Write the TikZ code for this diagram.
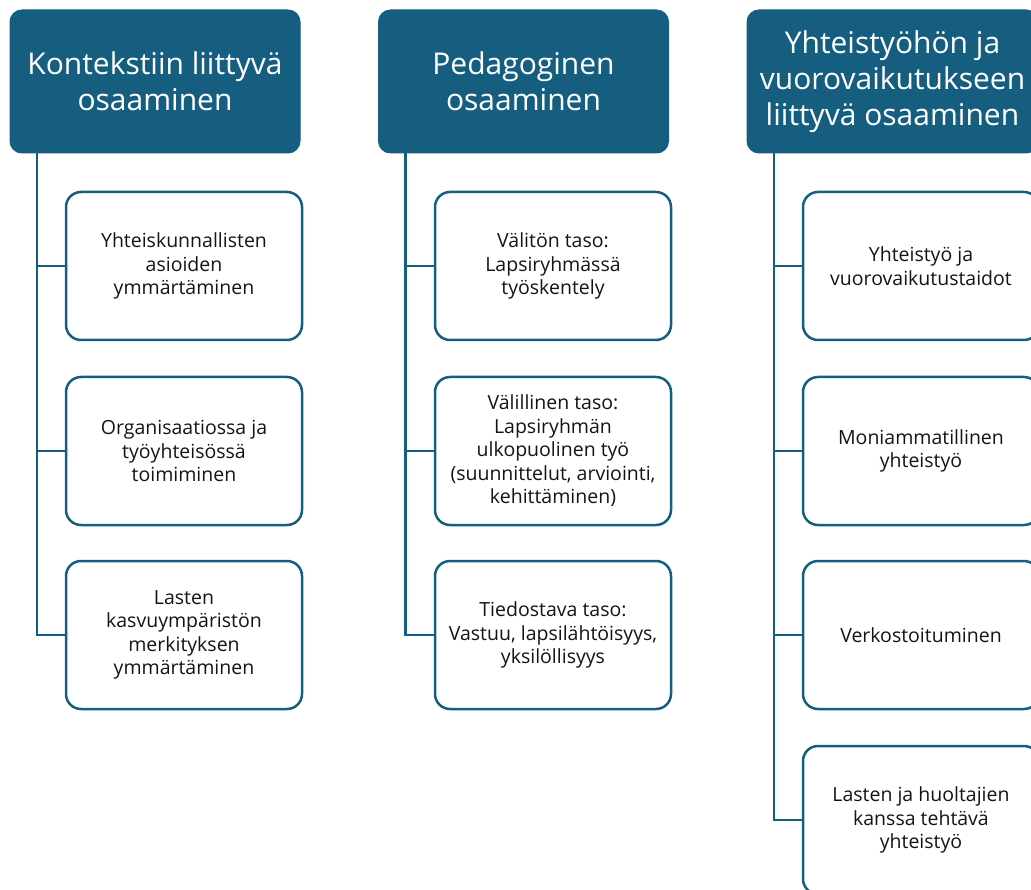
\documentclass[tikz,border=0pt]{standalone}
\usepackage{fontspec}
\setmainfont{Open Sans}
\definecolor{hdrblue}{RGB}{22,94,128}
\definecolor{txtdark}{RGB}{20,20,20}
\tikzset{
  hdr/.style={rectangle, rounded corners=12pt, fill=hdrblue, draw=hdrblue, line width=1pt,
    minimum width=290pt, minimum height=143pt, inner sep=4pt, text=white, align=center,
    font=\fontsize{30}{36}\selectfont},
  item/.style={rectangle, rounded corners=15pt, draw=hdrblue, line width=2.5pt, fill=white,
    minimum width=236pt, minimum height=148pt, inner sep=4pt, text=txtdark, align=center,
    font=\fontsize{19.5}{23.5}\selectfont},
  conn/.style={draw=hdrblue, line width=2.5pt}
}
\begin{document}
\begin{tikzpicture}[x=1pt,y=-1pt]
\clip (0,0) rectangle (1031,890);
\fill[white] (0,0) rectangle (1031,890);
% headers
\node[hdr] (h1) at (155,81.5) {Kontekstiin liittyvä\\osaaminen};
\node[hdr] (h2) at (523.5,81.5) {Pedagoginen\\osaaminen};
\node[hdr, minimum width=291pt] (h3) at (892.5,81.5) {Yhteistyöhön ja\\vuorovaikutukseen\\liittyvä osaaminen};
% column 1
\node[item] (a1) at (184,266) {Yhteiskunnallisten\\asioiden\\ymmärtäminen};
\node[item] (a2) at (184,451) {Organisaatiossa ja\\työyhteisössä\\toimiminen};
\node[item] (a3) at (184,635) {Lasten\\kasvuympäristön\\merkityksen\\ymmärtäminen};
% column 2
\node[item] (b1) at (553,266) {Välitön taso:\\Lapsiryhmässä\\työskentely};
\node[item] (b2) at (553,451) {Välillinen taso:\\Lapsiryhmän\\ulkopuolinen työ\\(suunnittelut, arviointi,\\kehittäminen)};
\node[item] (b3) at (553,635) {Tiedostava taso:\\Vastuu, lapsilähtöisyys,\\yksilöllisyys};
% column 3
\node[item] (c1) at (921,266) {Yhteistyö ja\\vuorovaikutustaidot};
\node[item] (c2) at (921,451) {Moniammatillinen\\yhteistyö};
\node[item] (c3) at (921,635) {Verkostoituminen};
\node[item] (c4) at (921,820) {Lasten ja huoltajien\\kanssa tehtävä\\yhteistyö};
% connectors
\foreach \h/\c in {h1/a1,h1/a2,h1/a3,h2/b1,h2/b2,h2/b3,h3/c1,h3/c2,h3/c3,h3/c4}{
  \draw[conn] ([xshift=27.5pt]\h.south west) |- (\c.west);
}
\end{tikzpicture}
\end{document}
